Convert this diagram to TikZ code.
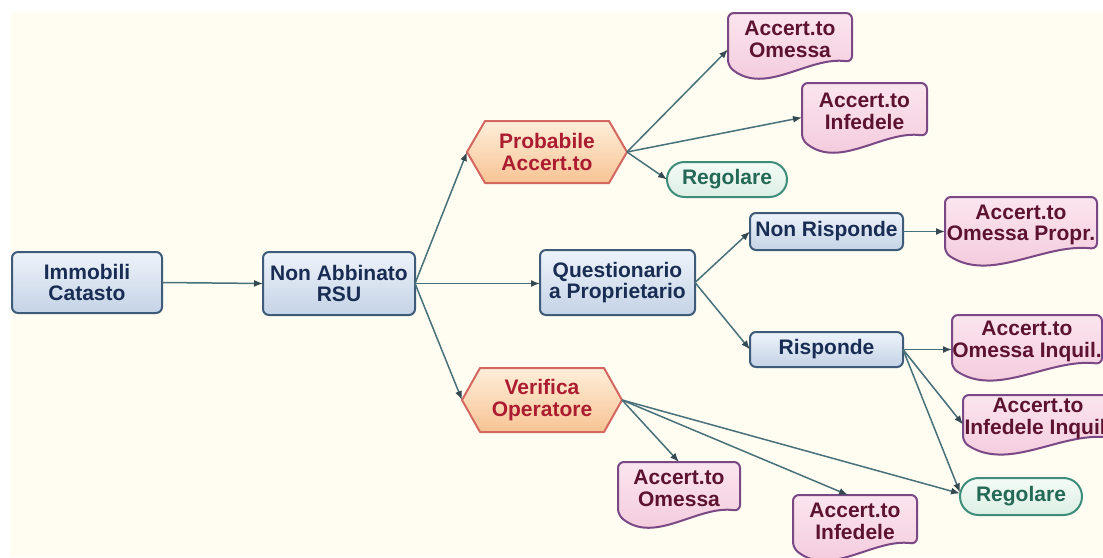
\documentclass[tikz,border=0pt]{standalone}
\usepackage{fontspec}
\setmainfont{Liberation Sans}
\usetikzlibrary{arrows.meta,calc}

\definecolor{bgcream}{RGB}{255,253,242}
\definecolor{boxline}{RGB}{62,92,122}
\definecolor{boxtop}{RGB}{238,243,250}
\definecolor{boxbot}{RGB}{196,211,230}
\definecolor{boxtext}{RGB}{24,44,84}
\definecolor{hexline}{RGB}{212,104,96}
\definecolor{hextop}{RGB}{254,238,218}
\definecolor{hexbot}{RGB}{247,196,148}
\definecolor{hextext}{RGB}{172,28,48}
\definecolor{docline}{RGB}{122,72,132}
\definecolor{doctop}{RGB}{251,229,238}
\definecolor{docbot}{RGB}{242,198,218}
\definecolor{doctext}{RGB}{92,18,48}
\definecolor{regline}{RGB}{62,140,122}
\definecolor{regtop}{RGB}{244,251,246}
\definecolor{regbot}{RGB}{220,239,229}
\definecolor{regtext}{RGB}{36,104,86}
\definecolor{linkcol}{RGB}{72,112,122}
\definecolor{tipcol}{RGB}{52,72,82}

\tikzset{
  every node/.style={font=\bfseries\fontsize{21}{21.5}\selectfont, align=center,
    inner sep=0pt, outer sep=0pt},
  bluebox/.style={draw=boxline, line width=2pt, rounded corners=6pt,
    top color=boxtop, bottom color=boxbot, text=boxtext},
  hexframe/.style={draw=hexline, line width=2pt, line join=round,
    top color=hextop, bottom color=hexbot},
  hexlabel/.style={text=hextext},
  docframe/.style={draw=docline, line width=2pt, rounded corners=6pt,
    top color=doctop, bottom color=docbot},
  doclabel/.style={text=doctext},
  regbox/.style={draw=regline, line width=2pt, top color=regtop,
    bottom color=regbot, text=regtext},
  conn/.style={draw=linkcol, line width=1.5pt,
    -{Latex[length=9pt,width=7pt,color=tipcol]}}
}

% hexagon: name, centre x, centre y, width, height, text
\newcommand\hexnode[6]{%
  \draw[hexframe] ({#2-#4/2},#3) -- ({#2-#4/2+18},{#3-#5/2})
    -- ({#2+#4/2-18},{#3-#5/2}) -- ({#2+#4/2},#3)
    -- ({#2+#4/2-18},{#3+#5/2}) -- ({#2-#4/2+18},{#3+#5/2}) -- cycle;
  \node[hexlabel, minimum width=#4pt, minimum height=#5pt] (#1) at (#2,#3) {#6};
}

% document with a wavy lower edge: name, left, top, right, lower-left level, text
\newcommand\docnode[6]{%
  \draw[docframe] (#2,{(#3+#5)/2}) -- (#2,#3) -- (#4,#3) -- (#4,{#5-4})
    .. controls ({#2+0.65*(#4-#2)},{#5-10}) and ({#2+0.3*(#4-#2)},{#5+30})
    .. (#2,#5) -- cycle;
  \pgfmathsetmacro\docw{#4-#2}
  \pgfmathsetmacro\doch{#5-#3}
  \node[doclabel, minimum width=\docw pt, minimum height=\doch pt]
    (#1) at ({(#2+#4)/2},{(#3+#5)/2}) {#6};
}

\begin{document}
\begin{tikzpicture}[x=1pt,y=-1pt]
  \useasboundingbox (0,0) rectangle (1103,557);
  \clip (0,0) rectangle (1103,557);
  \fill[white] (0,0) rectangle (1103,557);
  \fill[bgcream] (11,12) rectangle (1103,557);

  % process boxes
  \node[bluebox, minimum width=150pt, minimum height=61pt] (imm) at (87,282.5) {Immobili\\Catasto};
  \node[bluebox, minimum width=152pt, minimum height=63pt] (nab) at (339,283.5) {Non Abbinato\\RSU};
  \node[bluebox, minimum width=155pt, minimum height=65pt] (que) at (617.5,282.5) {Questionario\\a Proprietario};
  \node[bluebox, minimum width=153pt, minimum height=37pt] (nris) at (826.5,231.5) {Non Risponde};
  \node[bluebox, minimum width=153pt, minimum height=35pt] (ris) at (826.5,349.5) {Risponde};

  % decisions
  \hexnode{prob}{547}{152}{160}{62}{Probabile\\Accert.to}
  \hexnode{ver}{542}{400}{160}{64}{Verifica\\Operatore}

  % outcomes
  \node[regbox, minimum width=120pt, minimum height=35pt, rounded corners=17.5pt] (regt) at (727,179.5) {Regolare};
  \node[regbox, minimum width=122pt, minimum height=37pt, rounded corners=18.5pt] (regb) at (1021,496.5) {Regolare};

  \docnode{omt}{728}{13}{852}{66}{Accert.to\\Omessa}
  \docnode{ift}{802}{83}{927}{140}{Accert.to\\Infedele}
  \docnode{omp}{945}{197}{1097}{253}{Accert.to\\Omessa Propr.}
  \docnode{omi}{952}{315}{1102}{368}{Accert.to\\Omessa Inquil.}
  \docnode{ifi}{963}{395}{1113}{442}{Accert.to\\Infedele Inquil.}
  \docnode{omb}{618}{462}{740}{515}{Accert.to\\Omessa}
  \docnode{ifb}{793}{495}{917}{548}{Accert.to\\Infedele}

  % connectors
  \draw[conn] (imm.east) -- (nab.west);
  \draw[conn] (nab.east) -- (prob.west);
  \draw[conn] (nab.east) -- (nab.east -| que.west);
  \draw[conn] (nab.east) -- (ver.west);

  \draw[conn] (prob.east) -- ([yshift=-10pt]omt.west);
  \draw[conn] (prob.east) -- ([yshift=-6pt]ift.west);
  \draw[conn] (prob.east) -- (regt.west);

  \draw[conn] (que.east) -- (nris.west);
  \draw[conn] (que.east) -- (ris.west);
  \draw[conn] (nris.east) -- (nris.east -| omp.west);

  \draw[conn] (ris.east) -- (ris.east -| omi.west);
  \draw[conn] (ris.east) -- ([yshift=-6pt]ifi.west);
  \draw[conn] (ris.east) -- ([yshift=4pt]regb.west);

  \draw[conn] (ver.east) -- (omb.north);
  \draw[conn] (ver.east) -- ([xshift=-7pt]ifb.north);
  \draw[conn] (ver.east) -- ([yshift=3pt]regb.west);
\end{tikzpicture}
\end{document}
